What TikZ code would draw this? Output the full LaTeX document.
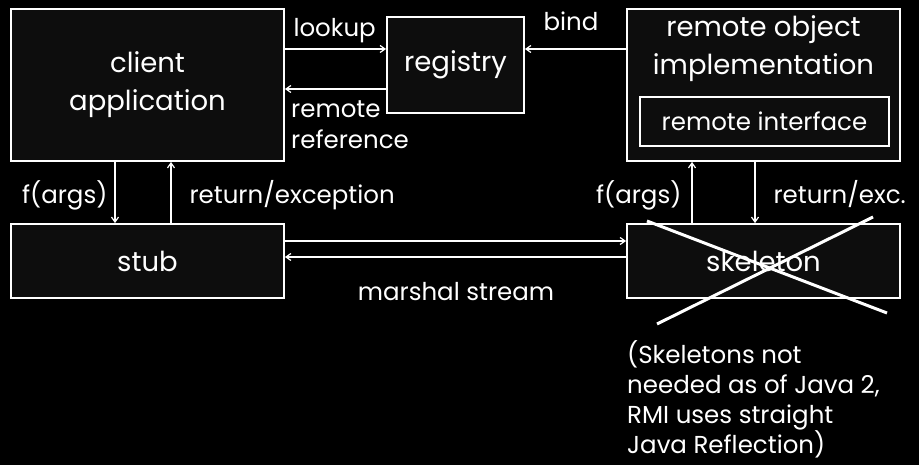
\documentclass[tikz,border=0pt]{standalone}
\usepackage{fontspec}
\setmainfont{Poppins}
\usetikzlibrary{arrows.meta,positioning}

\begin{document}
\begin{tikzpicture}[x=1pt,y=-1pt,>={Straight Barb[length=5pt,width=7pt]},
  every node/.style={text=white,font=\fontsize{24.5}{31}\selectfont},
  box/.style={draw=white,line width=1.8pt,fill=black!95!white,inner sep=0pt},
  boxtext/.style={font=\fontsize{27.5}{38}\selectfont,align=center},
  conn/.style={draw=white,line width=1.2pt,->}]
  \useasboundingbox[fill=black] (0,0) rectangle (919,465);

  % the five components
  \node[box,boxtext,minimum width=273pt,minimum height=152pt] (client) at (147.5,85) {client\\application};
  \node[box,boxtext,minimum width=137pt,minimum height=96pt] (registry) at (455.5,65) {registry};
  \node[box,minimum width=273pt,minimum height=152pt] (remote) at (763.5,85) {};
  \node[boxtext,anchor=north,inner sep=0pt] (remotetxt) at (763.5,15) {remote object\\implementation};
  \node[box,minimum width=249pt,minimum height=49pt] (iface) at (764.5,121.5) {remote interface};
  \node[box,boxtext,minimum width=273pt,minimum height=74pt] (stub) at (147.5,261) {stub};
  \node[box,boxtext,minimum width=273pt,minimum height=74pt] (skel) at (763.5,261) {skeleton};

  % registry traffic
  \draw[conn] (client.east |- 0,49) -- (registry.west |- 0,49);
  \draw[conn] (registry.west |- 0,89) -- (client.east |- 0,89);
  \draw[conn] (remote.west |- 0,49) -- (registry.east |- 0,49);
  \node[anchor=base west] (lookuplbl) at (290,37) {lookup};
  \node[anchor=north west,align=left,inner sep=0pt] (reflbl) at (291,100) {remote\\reference};
  \node[anchor=base] (bindlbl) at (571,31) {bind};

  % calls down to stub and skeleton
  \draw[conn] (client.south -| 115,0) -- (stub.north -| 115,0);
  \draw[conn] (stub.north -| 171,0) -- (client.south -| 171,0);
  \draw[conn] (skel.north -| 692,0) -- (remote.south -| 692,0);
  \draw[conn] (remote.south -| 755,0) -- (skel.north -| 755,0);
  \node[anchor=base east] (argslbl) at (111,204) {f(args)};
  \node[anchor=base west] (retlbl) at (186,204) {return/exception};
  \node[anchor=base east] (skargslbl) at (685,204) {f(args)};
  \node[anchor=base west] (skretlbl) at (770,204) {return/exc.};

  % marshal stream
  \draw[conn] (stub.east |- 0,241) -- (skel.west |- 0,241);
  \draw[conn] (skel.west |- 0,257) -- (stub.east |- 0,257);
  \node[anchor=base] (marshlbl) at (456,301) {marshal stream};

  % skeleton crossed out
  \draw[white,line width=3pt] (647,221) -- (887,313);
  \draw[white,line width=3pt] (873,217) -- (657,324);
  \node[anchor=north west,align=left,inner sep=0pt,font=\fontsize{24.5}{30}\selectfont] (note) at (627,340)
    {(Skeletons not\\needed as of Java 2,\\RMI uses straight\\Java Reflection)};
\end{tikzpicture}
\end{document}
